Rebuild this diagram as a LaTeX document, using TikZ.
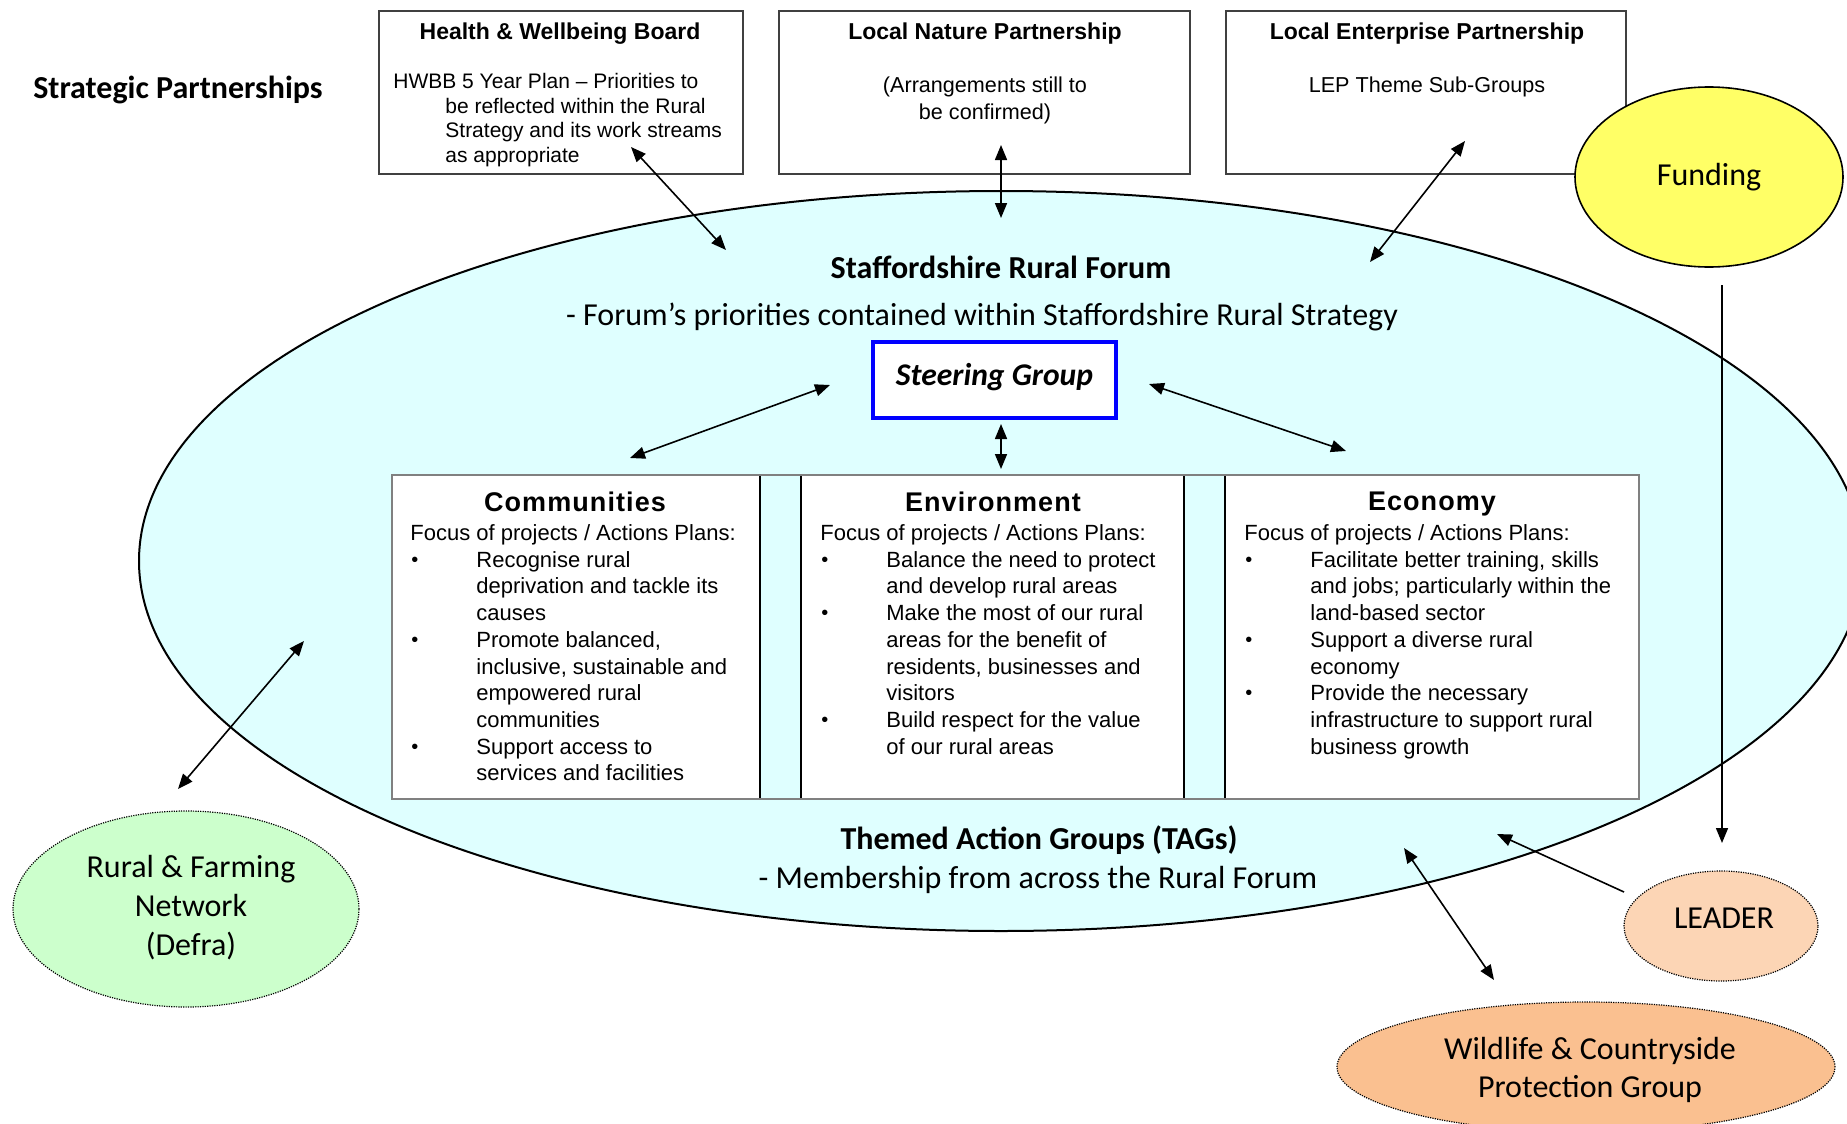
\documentclass[tikz,border=0pt]{standalone}
\usepackage{fontspec}
\setmainfont{Carlito}
\newfontfamily\arial{Liberation Sans}
\newfontfamily\arialsp[LetterSpace=4]{Liberation Sans}
\usetikzlibrary{shapes.geometric,arrows.meta}
\definecolor{forumfill}{HTML}{DFFFFF}
\definecolor{greenfill}{HTML}{CCFFCC}
\definecolor{leaderfill}{HTML}{FCD5B5}
\definecolor{wildfill}{HTML}{FAC090}
\definecolor{fundfill}{HTML}{FFFF66}
\definecolor{boxline}{HTML}{404040}
\newcommand{\bul}{{\fontsize{10}{10}\selectfont\raisebox{0.5pt}{•}}}
\begin{document}
\begin{tikzpicture}[x=0.5pt,y=-0.5pt,
  topbox/.style={draw=boxline,line width=1pt,fill=white,inner sep=0},
  toptitle/.style={font=\arial\bfseries\fontsize{11.5}{13}\selectfont},
  topbody/.style={font=\arial\fontsize{10.8}{13.5}\selectfont,align=center},
  panel/.style={draw=black,line width=1pt,fill=white,inner sep=0},
  paneltitle/.style={font=\arialsp\bfseries\fontsize{13.5}{15}\selectfont},
  paneltext/.style={font=\arial\fontsize{11}{13.35}\selectfont,anchor=north west,inner sep=0},
  oval/.style={ellipse,inner sep=0,align=center},
  dotline/.style={draw=black,line width=0.6pt,dash pattern=on 0.6pt off 0.6pt},
  calib/.style={font=\fontsize{16}{19.5}\selectfont,align=center},
  link/.style={line width=0.8pt,{Triangle[length=7.5pt,width=6pt]}-{Triangle[length=7.5pt,width=6pt]}},
  onelink/.style={line width=0.8pt,-{Triangle[length=7.5pt,width=6pt]}}]
\useasboundingbox (0,0) rectangle (1847,1124);
\clip (0,0) rectangle (1847,1124);

% main forum ellipse
\node[oval,draw=black,line width=1pt,fill=forumfill,minimum width=862pt,minimum height=370pt] (forum) at (1001,561) {};

% strategic partnerships
\node[font=\bfseries\fontsize{16}{19}\selectfont] (strat) at (178,90) {Strategic Partnerships};

% top boxes
\node[topbox,minimum width=182pt,minimum height=81.5pt] (hwb) at (561,92.5) {};
\node[topbox,minimum width=205.5pt,minimum height=81.5pt] (lnp) at (984.5,92.5) {};
\node[topbox,minimum width=200pt,minimum height=81.5pt] (lep) at (1426,92.5) {};
\node[toptitle] (hwbt) at (560,33.5) {Health \& Wellbeing Board};
\node[toptitle] (lnpt) at (985,33.5) {Local Nature Partnership};
\node[toptitle] (lept) at (1427,33.5) {Local Enterprise Partnership};
\node[font=\arial\fontsize{10.5}{12.25}\selectfont,anchor=north west,inner sep=0] (hwbb) at (393,71)
  {\begin{tabular}{@{}l@{}}HWBB 5 Year Plan – Priorities to\\
   \hspace*{26pt}be reflected within the Rural\\
   \hspace*{26pt}Strategy and its work streams\\
   \hspace*{26pt}as appropriate\end{tabular}};
\node[topbody] (lnpb) at (985,100) {(Arrangements still to\\be confirmed)};
\node[topbody] (lepb) at (1427,86.5) {LEP Theme Sub-Groups};

% funding
\node[oval,draw=black,line width=0.8pt,fill=fundfill,minimum width=134pt,minimum height=90pt,calib] (fund) at (1709,177) {Funding};

% forum texts
\node[font=\bfseries\fontsize{16}{19}\selectfont] (ftitle) at (1001,267) {Staffordshire Rural Forum};
\node[font=\fontsize{16}{19}\selectfont] (fsub) at (982,317) {- Forum’s priorities contained within Staffordshire Rural Strategy};

% steering group
\node[draw=blue,line width=1.6pt,fill=white,minimum width=121.5pt,minimum height=38pt,inner sep=0,
  font=\bfseries\itshape\fontsize{15.8}{18}\selectfont] (steer) at (994.5,380) {\raisebox{6pt}{Steering Group}};

% panels
\node[panel,minimum width=184pt,minimum height=162pt] (com) at (576,637) {};
\node[panel,minimum width=191.5pt,minimum height=162pt] (env) at (992.5,637) {};
\node[panel,minimum width=207pt,minimum height=162pt] (eco) at (1432,637) {};
\node[draw=gray,line width=0.8pt,minimum width=623.5pt,minimum height=162pt,inner sep=0] (frame) at (1015.5,637) {};

\node[paneltitle] (comt) at (575,502) {Communities};
\node[paneltitle] (envt) at (993,502) {Environment};
\node[paneltitle] (ecot) at (1432,504) {Economy};

\node[paneltext] (comb) at (410,521.5) {\begin{tabular}{@{\hspace{0.5pt}}p{32.5pt}@{}l@{}}
\multicolumn{2}{@{}l@{}}{Focus of projects / Actions Plans:}\\
\bul & Recognise rural\\
 & deprivation and tackle its\\
 & causes\\
\bul & Promote balanced,\\
 & inclusive, sustainable and\\
 & empowered rural\\
 & communities\\
\bul & Support access to\\
 & services and facilities
\end{tabular}};
\node[paneltext] (envb) at (820,521.5) {\begin{tabular}{@{\hspace{0.5pt}}p{32.5pt}@{}l@{}}
\multicolumn{2}{@{}l@{}}{Focus of projects / Actions Plans:}\\
\bul & Balance the need to protect\\
 & and develop rural areas\\
\bul & Make the most of our rural\\
 & areas for the benefit of\\
 & residents, businesses and\\
 & visitors\\
\bul & Build respect for the value\\
 & of our rural areas
\end{tabular}};
\node[paneltext] (ecob) at (1244,521.5) {\begin{tabular}{@{\hspace{0.5pt}}p{32.5pt}@{}l@{}}
\multicolumn{2}{@{}l@{}}{Focus of projects / Actions Plans:}\\
\bul & Facilitate better training, skills\\
 & and jobs; particularly within the\\
 & land-based sector\\
\bul & Support a diverse rural\\
 & economy\\
\bul & Provide the necessary\\
 & infrastructure to support rural\\
 & business growth
\end{tabular}};

% TAGs
\node[font=\bfseries\fontsize{16}{19}\selectfont] (tags) at (1039,840) {Themed Action Groups (TAGs)};
\node[font=\fontsize{16}{19}\selectfont] (tagsub) at (1038,880) {- Membership from across the Rural Forum};

% outer ovals
\node[oval,dotline,fill=greenfill,minimum width=173pt,minimum height=98pt] (rfn) at (186,909) {};
\node[calib] (rfnt) at (191,908) {Rural \& Farming\\Network\\(Defra)};
\node[oval,dotline,fill=leaderfill,minimum width=97pt,minimum height=55pt] (leader) at (1721,926) {};
\node[calib] (leadert) at (1724,918) {LEADER};
\node[oval,dotline,fill=wildfill,minimum width=249pt,minimum height=65pt] (wild) at (1586,1067) {};
\node[calib,font=\fontsize{16}{19}\selectfont] (wildt) at (1590,1070) {Wildlife \& Countryside\\Protection Group};

% connector end points
\coordinate (h1) at (631,147);  \coordinate (h2) at (726,250);
\coordinate (n1) at (1001,145); \coordinate (n2) at (1001,218);
\coordinate (e1) at (1465,141); \coordinate (e2) at (1370,262);
\coordinate (s1) at (830,385);  \coordinate (s2) at (630,458);
\coordinate (s3) at (1001,424); \coordinate (s4) at (1001,469);
\coordinate (s5) at (1149,384); \coordinate (s6) at (1346,451);
\coordinate (r1) at (304,641);  \coordinate (r2) at (178,789);
\coordinate (f1) at (1722,285); \coordinate (f2) at (1722,843);
\coordinate (l1) at (1624,892); \coordinate (l2) at (1497,834);
\coordinate (w1) at (1404,848); \coordinate (w2) at (1494,980);

\draw[link] (h1) -- (h2);
\draw[link] (n1) -- (n2);
\draw[link] (e1) -- (e2);
\draw[link] (s1) -- (s2);
\draw[link] (s3) -- (s4);
\draw[link] (s5) -- (s6);
\draw[link] (r1) -- (r2);
\draw[onelink] (f1) -- (f2);
\draw[onelink] (l1) -- (l2);
\draw[link] (w1) -- (w2);
\end{tikzpicture}
\end{document}
